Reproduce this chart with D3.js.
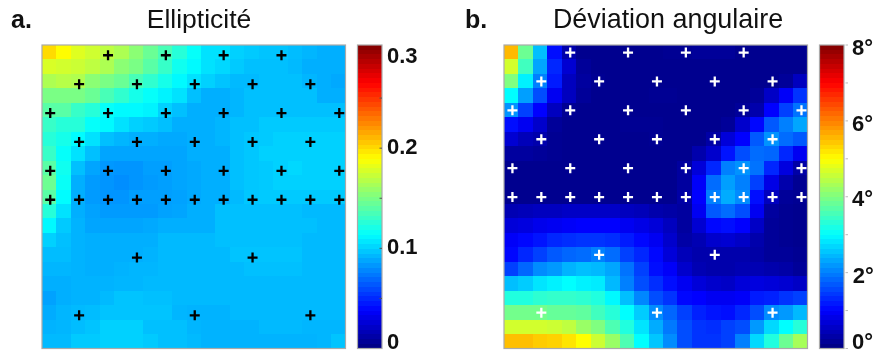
<!DOCTYPE html>
<html lang="fr">
<head>
<meta charset="utf-8">
<script src="https://cdn.jsdelivr.net/npm/d3@7"></script>
<style>
html,body{margin:0;padding:0;background:#fff}
svg{display:block;filter:blur(0.4px)}
text{font-family:"Liberation Sans",Arial,sans-serif;fill:#111}
</style>
</head>
<body>
<svg id="chart" width="874" height="354"></svg>
<script>
const titleA = "Ellipticité", titleB = "Déviation angulaire";
const panelLabelA = "a.", panelLabelB = "b.";
const ticksA = [0, 0.1, 0.2, 0.3];
const tickLabelsA = ["0", "0.1", "0.2", "0.3"];
const ticksB = [0, 2, 4, 6, 8];
const tickLabelsB = ["0°", "2°", "4°", "6°", "8°"];
const minorTicksA = [0.05, 0.1, 0.15, 0.2, 0.25];
const minorTicksB = [0, 1, 2, 3, 4, 5, 6, 7, 8];
const maxA = 0.303, maxB = 8;

const ellipticite = [
[.200,.190,.180,.175,.170,.165,.155,.145,.135,.125,.115,.105,.105,.100,.098,.096,.096,.094,.092,.090,.090],
[.178,.176,.174,.170,.165,.155,.150,.140,.130,.118,.112,.105,.102,.098,.095,.095,.095,.093,.090,.090,.090],
[.165,.168,.166,.155,.150,.145,.135,.128,.120,.112,.105,.100,.096,.093,.093,.095,.095,.095,.092,.090,.088],
[.150,.150,.150,.145,.135,.128,.120,.115,.110,.105,.095,.090,.090,.092,.095,.095,.095,.095,.095,.090,.090],
[.140,.140,.130,.125,.115,.112,.112,.110,.100,.095,.090,.090,.090,.092,.095,.095,.095,.095,.095,.095,.095],
[.130,.125,.125,.115,.112,.105,.100,.098,.095,.090,.090,.090,.092,.095,.095,.098,.098,.098,.098,.098,.098],
[.125,.120,.113,.105,.095,.092,.090,.090,.088,.088,.090,.090,.092,.095,.097,.098,.100,.100,.100,.100,.100],
[.130,.115,.105,.095,.087,.087,.087,.087,.087,.087,.090,.090,.090,.095,.097,.100,.100,.100,.100,.100,.100],
[.140,.118,.095,.087,.083,.082,.082,.085,.085,.087,.088,.090,.090,.095,.097,.098,.100,.102,.100,.100,.100],
[.146,.116,.090,.084,.082,.080,.082,.084,.085,.087,.088,.090,.090,.095,.097,.098,.100,.100,.100,.100,.100],
[.140,.113,.090,.084,.082,.082,.085,.085,.085,.086,.088,.090,.090,.093,.097,.098,.098,.098,.098,.098,.098],
[.125,.105,.090,.086,.084,.084,.084,.084,.086,.087,.090,.090,.095,.095,.095,.095,.095,.095,.093,.093,.093],
[.112,.098,.091,.087,.087,.087,.087,.088,.090,.090,.090,.090,.095,.095,.095,.095,.095,.095,.095,.093,.093],
[.100,.095,.091,.090,.090,.090,.090,.090,.093,.093,.093,.093,.095,.095,.095,.095,.095,.095,.093,.093,.093],
[.094,.094,.091,.090,.090,.090,.090,.091,.093,.093,.093,.093,.093,.096,.096,.096,.096,.096,.093,.093,.093],
[.092,.092,.091,.090,.090,.091,.092,.092,.093,.093,.093,.093,.093,.093,.095,.095,.095,.095,.093,.093,.093],
[.090,.090,.091,.091,.091,.092,.092,.093,.093,.093,.093,.093,.093,.093,.093,.093,.093,.093,.093,.093,.093],
[.086,.090,.091,.091,.093,.096,.096,.095,.095,.093,.093,.093,.093,.093,.093,.093,.093,.093,.093,.093,.093],
[.089,.092,.093,.094,.096,.096,.096,.096,.096,.092,.091,.091,.091,.093,.093,.093,.093,.093,.093,.093,.093],
[.091,.092,.094,.096,.100,.100,.100,.095,.095,.095,.092,.091,.091,.091,.091,.093,.093,.093,.092,.092,.092],
[.093,.093,.098,.098,.100,.100,.100,.098,.095,.095,.093,.091,.091,.091,.091,.091,.091,.091,.091,.092,.096]
];

const deviation = [
[5.55,3.85,2.50,1.10,.35,.12,.12,.12,.12,.12,.12,.15,.15,.20,.20,.20,.12,.12,.12,.12,.12],
[4.65,3.50,2.30,1.30,.65,.20,.12,.12,.12,.12,.12,.12,.12,.12,.12,.12,.12,.12,.12,.12,.12],
[4.00,2.90,2.00,1.20,.50,.25,.15,.12,.12,.12,.12,.12,.12,.12,.12,.12,.12,.12,.12,.20,.50],
[3.00,2.25,1.60,.90,.50,.20,.12,.12,.12,.12,.15,.15,.12,.12,.12,.12,.12,.20,.55,.95,1.40],
[2.15,1.50,1.00,.50,.15,.12,.12,.12,.12,.12,.12,.12,.12,.12,.12,.12,.20,.35,1.00,1.50,1.90],
[1.10,.90,.60,.20,.12,.12,.12,.12,.15,.15,.15,.12,.12,.12,.12,.20,.60,1.05,1.70,2.00,2.30],
[.65,.45,.35,.15,.12,.12,.12,.12,.12,.12,.15,.12,.12,.12,.30,.70,1.00,1.70,2.15,1.85,1.70],
[.25,.25,.20,.15,.12,.12,.12,.12,.12,.12,.12,.12,.12,.35,.60,1.15,1.60,1.85,1.80,1.30,.90],
[.12,.12,.12,.12,.12,.12,.12,.12,.12,.12,.12,.12,.25,.70,1.30,2.00,2.15,1.90,1.30,.75,.30],
[.12,.12,.12,.12,.12,.12,.12,.12,.12,.12,.12,.12,.25,.95,1.85,2.25,2.00,1.50,.80,.35,.15],
[.12,.12,.12,.12,.12,.12,.12,.12,.12,.12,.12,.12,.30,1.00,2.00,2.35,2.10,1.10,.50,.20,.15],
[.40,.45,.50,.50,.55,.55,.55,.55,.50,.45,.35,.30,.25,.90,1.70,1.85,1.60,.90,.25,.15,.12],
[.70,.75,.85,.90,.95,1.00,1.00,1.00,.90,.80,.70,.50,.25,.65,1.05,1.10,1.00,.55,.20,.15,.12],
[.95,1.05,1.15,1.30,1.35,1.40,1.40,1.35,1.20,1.05,.90,.60,.30,.40,.60,.65,.55,.35,.20,.15,.12],
[1.05,1.30,1.50,1.70,1.80,1.85,2.00,1.85,1.50,1.30,1.05,.70,.45,.35,.35,.35,.35,.30,.20,.20,.15],
[1.50,1.80,2.10,2.20,2.40,2.50,2.45,2.30,1.90,1.50,1.10,.95,.60,.40,.35,.35,.40,.40,.35,.30,.20],
[2.50,2.60,2.80,2.90,3.00,2.90,2.85,2.45,2.00,1.60,1.35,1.10,.90,.70,.60,.55,.70,.75,.70,.65,.55],
[3.25,3.25,3.35,3.40,3.40,3.35,3.25,2.95,2.50,2.05,1.60,1.40,1.05,1.00,.90,.90,.95,1.20,1.25,1.40,1.50],
[3.90,3.90,3.90,3.80,3.80,3.75,3.50,3.30,3.00,2.60,2.10,1.80,1.50,1.25,1.15,1.10,1.30,1.60,2.10,2.20,2.45],
[4.65,4.65,4.65,4.60,4.50,4.20,4.00,3.60,3.25,2.80,2.35,1.95,1.60,1.40,1.35,1.50,1.60,2.20,2.70,3.00,3.30],
[5.50,5.50,5.40,5.35,5.20,5.00,4.60,4.20,3.60,3.00,2.55,2.10,1.60,1.40,1.40,1.50,2.00,2.70,3.25,3.85,4.30]
];

// markers: rows and, for each row, the columns on the same grid as the cells
const markerRows = [0, 2, 4, 6, 8, 10, 14, 18];
const markerCols = [
  [4, 8, 12, 16],
  [2, 6, 10, 14, 18],
  [0, 4, 8, 12, 16, 20],
  [2, 6, 10, 14, 18],
  [0, 4, 8, 12, 16, 20],
  [0, 2, 4, 6, 8, 10, 12, 14, 16, 18, 20],
  [6, 14],
  [2, 10, 18]
];

function jet(t) {
  const c = v => Math.round(255 * Math.max(0, Math.min(1, v)));
  const r = 1.5 - Math.abs(4 * t - 3), g = 1.5 - Math.abs(4 * t - 2), b = 1.5 - Math.abs(4 * t - 1);
  return `rgb(${c(r)},${c(g)},${c(b)})`;
}

const svg = d3.select("#chart");
const levels = d3.range(64);

function panel(cfg) {
  const g = svg.append("g");
  const x = d3.scaleBand().domain(d3.range(21)).range([cfg.x0, cfg.x0 + 303.5]);
  const y = d3.scaleBand().domain(d3.range(21)).range([45, 348.5]);
  const color = d3.scaleLinear().domain([0, cfg.max]).range([0, 1]).clamp(true);

  cfg.data.forEach((row, r) => {
    g.selectAll(null).data(row).enter().append("rect")
      .attr("x", (d, c) => Math.round(x(c))).attr("y", Math.round(y(r)))
      .attr("width", (d, c) => Math.round(x(c) + x.bandwidth()) - Math.round(x(c)))
      .attr("height", Math.round(y(r) + y.bandwidth()) - Math.round(y(r)))
      .attr("shape-rendering", "crispEdges")
      .attr("fill", d => jet(color(d)));
  });
  g.append("rect").attr("x", cfg.x0).attr("y", 45).attr("width", 303.5).attr("height", 303.5)
    .attr("fill", "none").attr("stroke", "#aaa").attr("stroke-width", 1.2);

  // markers
  markerRows.forEach((r, i) => {
    markerCols[i].forEach(c => {
      const cx = x(c) + x.bandwidth() / 2 + cfg.mdx;
      const cy = y(r) + y.bandwidth() / 2 + cfg.mdy;
      g.append("path")
        .attr("d", `M${cx - 5},${cy}H${cx + 5}M${cx},${cy - 5}V${cy + 5}`)
        .attr("stroke", cfg.markerColor).attr("stroke-width", 2.3).attr("fill", "none");
    });
  });

  // colour bar
  const cy = d3.scaleLinear().domain([0, cfg.max]).range([348.5, 45]);
  const lev = d3.scaleBand().domain(levels).range([348.5, 45]);
  g.selectAll(null).data(levels).enter().append("rect")
    .attr("x", cfg.barX).attr("width", 24.5)
    .attr("y", d => Math.round(lev(d)))
    .attr("height", d => Math.round(lev(d) + lev.bandwidth()) - Math.round(lev(d)))
    .attr("shape-rendering", "crispEdges")
    .attr("fill", d => jet((d + 0.5) / 64));
  g.append("rect").attr("x", cfg.barX).attr("y", 45).attr("width", 24.5).attr("height", 303.5)
    .attr("fill", "none").attr("stroke", "#aaa").attr("stroke-width", 1.2);

  g.selectAll(null).data(cfg.minor).enter().append("line")
    .attr("x1", cfg.barX + cfg.minorFrom).attr("x2", cfg.barX + cfg.minorFrom + 2.5)
    .attr("y1", d => cy(d)).attr("y2", d => cy(d))
    .attr("stroke", cfg.minorColor).attr("stroke-width", 1);

  // tick labels
  g.selectAll(null).data(cfg.ticks).enter().append("text")
    .attr("x", (d, i) => cfg.tickX[i])
    .attr("y", (d, i) => cfg.tickY[i])
    .attr("font-size", 22).attr("font-weight", "bold").attr("fill", "#111")
    .text((d, i) => cfg.tickLabels[i]);

  // titles
  g.append("text").attr("x", cfg.titleX).attr("y", 28).attr("text-anchor", "middle")
    .attr("font-size", cfg.titleSize).text(cfg.title);
  g.append("text").attr("x", cfg.labelX).attr("y", 28)
    .attr("font-size", 25).attr("font-weight", "bold").text(cfg.label);
}

panel({
  x0: 42, data: ellipticite, max: maxA, mdx: 1, mdy: 3, markerColor: "#000",
  barX: 357.5, minor: minorTicksA, minorFrom: 22, minorColor: "#555",
  ticks: ticksA, tickLabels: tickLabelsA,
  tickX: [387, 387, 387, 387], tickY: [349.3, 254, 154, 63],
  title: titleA, titleSize: 26.5, titleX: 199, label: panelLabelA, labelX: 11
});
panel({
  x0: 504, data: deviation, max: maxB, mdx: 1.2, mdy: 0.3, markerColor: "#fff",
  barX: 819.5, minor: minorTicksB, minorFrom: 26, minorColor: "#bbb",
  ticks: ticksB, tickLabels: tickLabelsB,
  tickX: [852, 852.8, 852, 852, 852], tickY: [349.3, 283, 206, 131, 55],
  title: titleB, titleSize: 26.9, titleX: 668, label: panelLabelB, labelX: 465
});
</script>
</body>
</html>
